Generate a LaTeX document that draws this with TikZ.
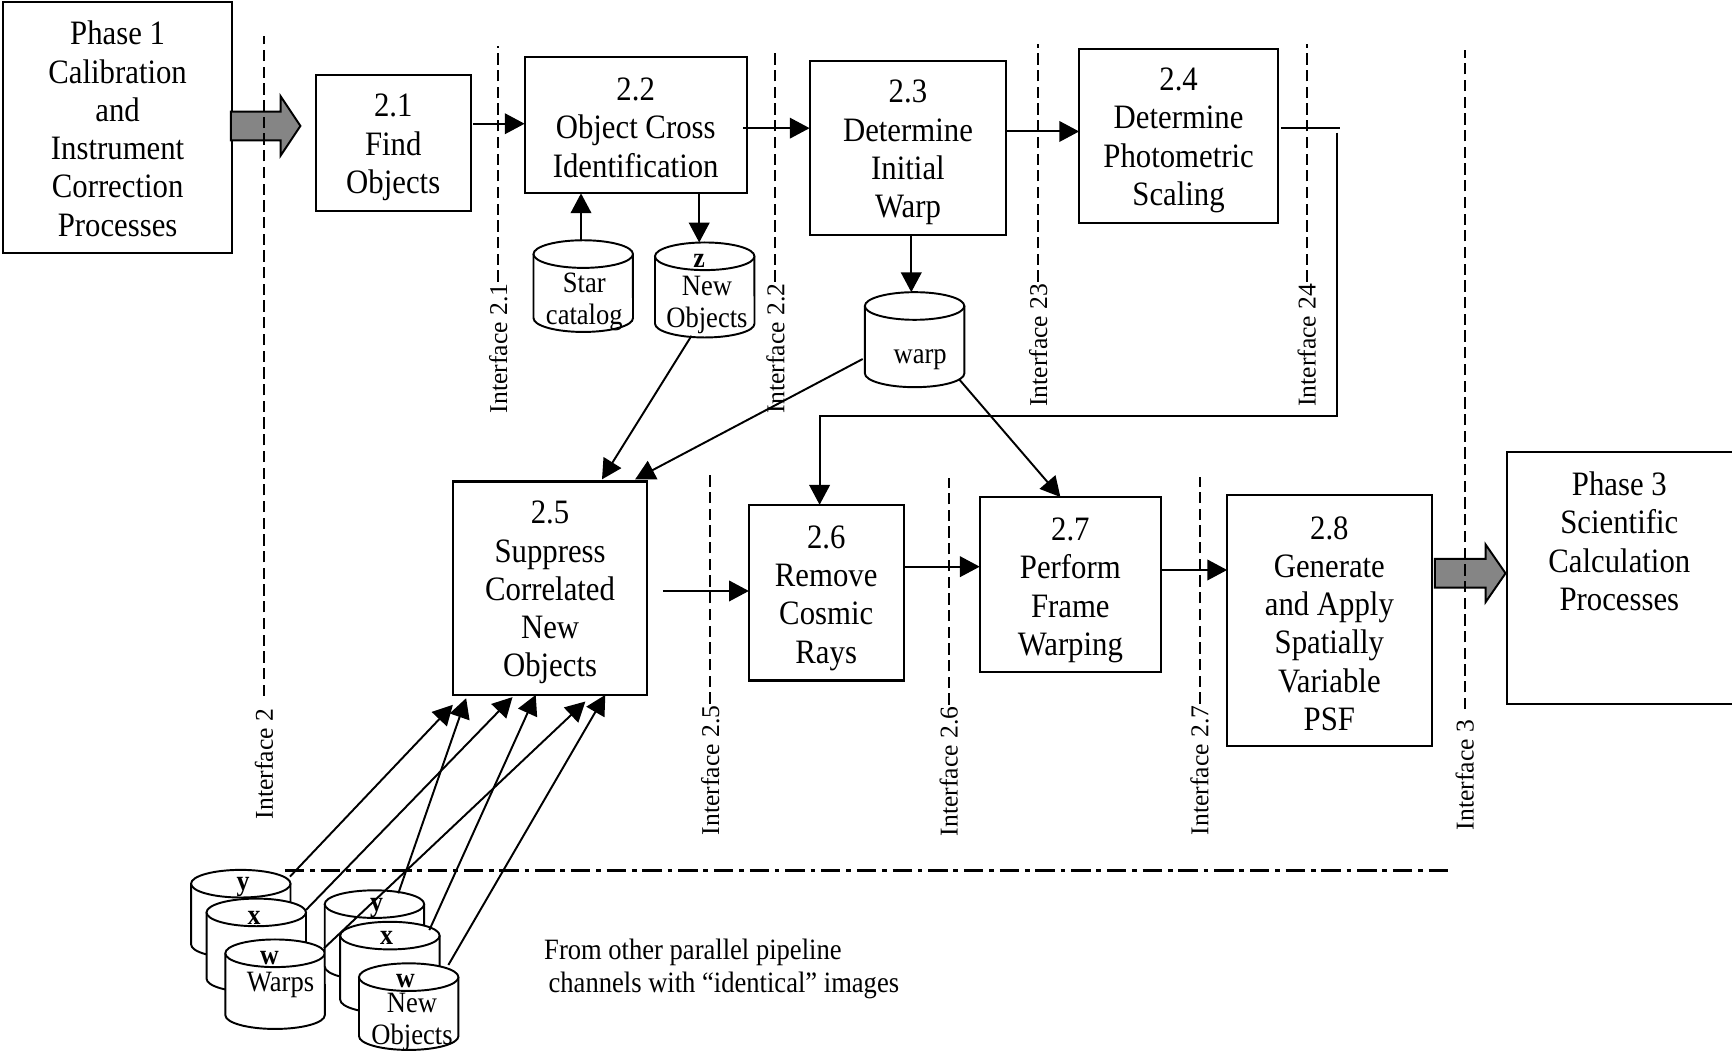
\documentclass[tikz,border=0pt]{standalone}
\usepackage{fontspec}
\setmainfont{Liberation Serif}[FakeStretch=0.9]
\newfontfamily\ifacefont{Liberation Serif}
\usetikzlibrary{arrows.meta,calc}
\newcommand{\boxfont}{\fontsize{8.8}{9.85}\selectfont}
\newcommand{\dbcyl}[4]{%
  \fill[white] (#2-45,#3) rectangle (#2+45,#4);
  \fill[white] (#2,#4) ellipse [x radius=0.45cm, y radius=0.125cm];
  \draw[cylline] (#2-45,#3) -- (#2-45,#4) arc[start angle=180, end angle=360, x radius=0.45cm, y radius=0.125cm] -- (#2+45,#3);
  \draw[cylline, fill=white] (#2,#3) ellipse [x radius=0.45cm, y radius=0.125cm];
  \coordinate (#1) at (#2,#3);
}
\tikzset{
  box/.style={draw, line width=0.55pt, inner sep=0pt, outer sep=0pt},
  btxt/.style={align=center, font=\boxfont, inner sep=0pt, yshift=-0.04cm},
  arr/.style={line width=0.5pt, -{Triangle[length=5.1pt,width=5.3pt]}},
  plain/.style={line width=0.5pt},
  ifline/.style={line width=0.55pt, dash pattern=on 2.9pt off 1.4pt},
  iface/.style={rotate=90, anchor=east, inner sep=0.3pt, font=\ifacefont\fontsize{6.6}{7}\selectfont},
  cylline/.style={line width=0.5pt},
  cyltxt/.style={align=center, inner sep=0pt, font=\fontsize{7.6}{8.2}\selectfont},
  cylbold/.style={inner sep=0pt, font=\bfseries\fontsize{7.4}{8}\selectfont},
  blockarrow/.style={draw, line width=0.5pt, fill=black!48},
}
\begin{document}
\begin{tikzpicture}[x=0.01cm, y=-0.01cm]
\useasboundingbox (0,0) rectangle (1568,956);

% process boxes
\node[box, minimum width=2.07cm, minimum height=2.27cm, label={[btxt, yshift=0.03cm]center:{Phase 1\\Calibration\\and\\Instrument\\Correction\\Processes}}] (p1) at (106.5,115.5) {};
\node[box, minimum width=1.40cm, minimum height=1.23cm, label={[btxt]center:{2.1\\Find\\Objects}}] (b21) at (356,129.5) {};
\node[box, minimum width=2.01cm, minimum height=1.23cm, label={[btxt, yshift=0.02cm]center:{2.2\\Object Cross\\Identification}}] (b22) at (575.5,113.5) {};
\node[box, minimum width=1.78cm, minimum height=1.58cm, label={[btxt]center:{2.3\\Determine\\Initial\\Warp}}] (b23) at (822,134) {};
\node[box, minimum width=1.80cm, minimum height=1.58cm, label={[btxt]center:{2.4\\Determine\\Photometric\\Scaling}}] (b24) at (1067,123) {};
\node[box, minimum width=1.76cm, minimum height=1.93cm, label={[btxt]center:{2.5\\Suppress\\Correlated\\New\\Objects}}] (b25) at (498,532.5) {};
\node[box, minimum width=1.40cm, minimum height=1.59cm, label={[btxt, yshift=-0.01cm]center:{2.6\\Remove\\Cosmic\\Rays}}] (b26) at (748,536.5) {};
\node[box, minimum width=1.64cm, minimum height=1.58cm, label={[btxt, yshift=-0.015cm]center:{2.7\\Perform\\Frame\\Warping}}] (b27) at (969,529) {};
\node[box, minimum width=1.85cm, minimum height=2.27cm, label={[btxt, yshift=0.01cm]center:{2.8\\Generate\\and Apply\\Spatially\\Variable\\PSF}}] (b28) at (1203.5,561.5) {};
\node[inner sep=0pt, outer sep=0pt, minimum width=2.035cm, minimum height=2.28cm] (p3) at (1465.75,523) {};
\draw[line width=0.55pt] (p3.north east) -- (p3.north west) -- (p3.south west) -- (p3.south east);
\node[align=center, font=\boxfont, inner sep=0pt] (p3t) at (1466,490) {Phase 3\\Scientific\\Calculation\\Processes};

% gray block arrows
\draw[blockarrow] (209,101) -- (254,101) -- (254,87) -- (272,114) -- (254,141) -- (254,127) -- (209,127) -- cycle;
\draw[blockarrow] (1299,506) -- (1345,506) -- (1345,493) -- (1363,519) -- (1345,545) -- (1345,532) -- (1299,532) -- cycle;

% interfaces
\node[iface] (i2) at (239,640) {Interface 2};
\draw[ifline] ($(i2.east)+(0,-10)$) -- ++(0,-597);
\node[iface] (i21) at (451,255) {Interface 2.1};
\draw[ifline] (i21.east) -- ++(0,-213);
\node[iface] (i22) at (702,255) {Interface 2.2};
\draw[ifline] (i22.east) -- ++(0,-210);
\node[iface] (i23) at (940,255) {Interface 23};
\draw[ifline] (i23.east) -- ++(0,-215);
\node[iface] (i24) at (1183,255) {Interface 24};
\draw[ifline] (i24.east) -- ++(0,-215);
\node[iface] (i25) at (643,637) {Interface 2.5};
\draw[ifline] (i25.east) -- ++(0,-207);
\node[iface] (i26) at (859,638) {Interface 2.6};
\draw[ifline] (i26.east) -- ++(0,-205);
\node[iface] (i27) at (1086,637) {Interface 2.7};
\draw[ifline] (i27.east) -- ++(0,-205);
\node[iface] (i3) at (1326,650) {Interface 3};
\draw[ifline] ($(i3.east)+(0,-8)$) -- ++(0,-597);

% data stores
\dbcyl{star}{528}{230}{288}
\dbcyl{newobj}{638}{232}{293}
\dbcyl{warpdb}{828}{277}{338}
\dbcyl{yl}{218}{800}{855}
\dbcyl{xl}{232}{826}{886}
\dbcyl{wl}{249}{863}{919}
\dbcyl{yr}{339}{818.5}{875}
\dbcyl{xr}{353}{847}{905}
\dbcyl{wr}{370}{884.6}{938}

\node[cyltxt] (starlbl) at (529,273.5) {Star\\catalog};
\node[cylbold] (zlbl) at (633,236) {z};
\node[cyltxt] (newlbl) at (640,276) {New\\Objects};
\node[cyltxt] (warplbl) at (833,326) {warp};
\node[cylbold] (yllbl) at (220,803) {y};
\node[cylbold] (xllbl) at (230,831) {x};
\node[cylbold] (wllbl) at (244,867) {w};
\node[cyltxt] (warpslbl) at (254,892) {Warps};
\node[cylbold] (yrlbl) at (341,822) {y};
\node[cylbold] (xrlbl) at (350,849) {x};
\node[cylbold] (wrlbl) at (367,888) {w};
\node[cyltxt] (wrtxt) at (373,925) {New\\Objects};

% separator
\draw[line width=0.8pt, dash pattern=on 5pt off 1.5pt on 1.2pt off 1.5pt] (258,788) -- (1313,788);

\node[align=left, anchor=west, inner sep=0pt, font=\fontsize{7.6}{8.5}\selectfont] (note) at (492,877) {From other parallel pipeline\\\hspace*{0.15em}channels with “identical” images};

% connectors
\draw[arr] ($(b21.east)+(2,-17.5)$) -- ($(b22.west)+(0,-1.5)$);
\draw[arr] ($(b22.east)+(-3,2.5)$) -- ($(b23.west)+(0,-18)$);
\draw[arr] ($(b23.east)+(0,-15)$) -- ($(b24.west)+(0,-4)$);
\draw[plain] ($(b24.east)+(3,-7)$) -- ++(53,0);
\draw[arr] ($(b24.east)+(53,-3)$) |- ($(b26.north)+(-6,-80)$) -- ($(b26.north)+(-6,0)$);
\draw[arr] ($(star)+(-2,-12.5)$) -- ($(b22.south)+(-49.5,0)$);
\draw[arr] ($(b22.south)+(57.5,0)$) -- ($(newobj)+(-5,-12.5)$);
\draw[arr] ($(b23.south)+(3,0)$) -- ($(warpdb)+(-3,-12.5)$);
\draw[arr] ($(newobj)+(-12,72)$) -- ($(b25.north)+(47,-2)$);
\draw[arr] ($(warpdb)+(-47,48)$) -- ($(b25.north)+(77,-2)$);
\draw[arr] ($(warpdb)+(40,66)$) -- ($(b27.north)+(-9,0)$);
\draw[arr] ($(b25.east)+(14,2.5)$) -- ($(b26.west)+(0,-1.5)$);
\draw[arr] ($(b26.east)+(0,-23.5)$) -- ($(b27.west)+(0,-16)$);
\draw[arr] ($(b27.east)+(0,-13)$) -- ($(b28.west)+(0,-45.5)$);

\draw[arr] ($(yl)+(44.5,-6.4)$) -- ($(b25.south)+(-88,9)$);
\draw[arr] ($(yr)+(21.6,-9.8)$) -- ($(b25.south)+(-76,3)$);
\draw[arr] ($(xl)+(45,-2.2)$) -- ($(b25.south)+(-34,2)$);
\draw[arr] ($(xr)+(35.7,-5)$) -- ($(b25.south)+(-13,0)$);
\draw[arr] ($(wl)+(44.3,-4.5)$) -- ($(b25.south)+(32,6)$);
\draw[arr] ($(wr)+(35.9,-11)$) -- ($(b25.south)+(50,0)$);
\end{tikzpicture}
\end{document}
